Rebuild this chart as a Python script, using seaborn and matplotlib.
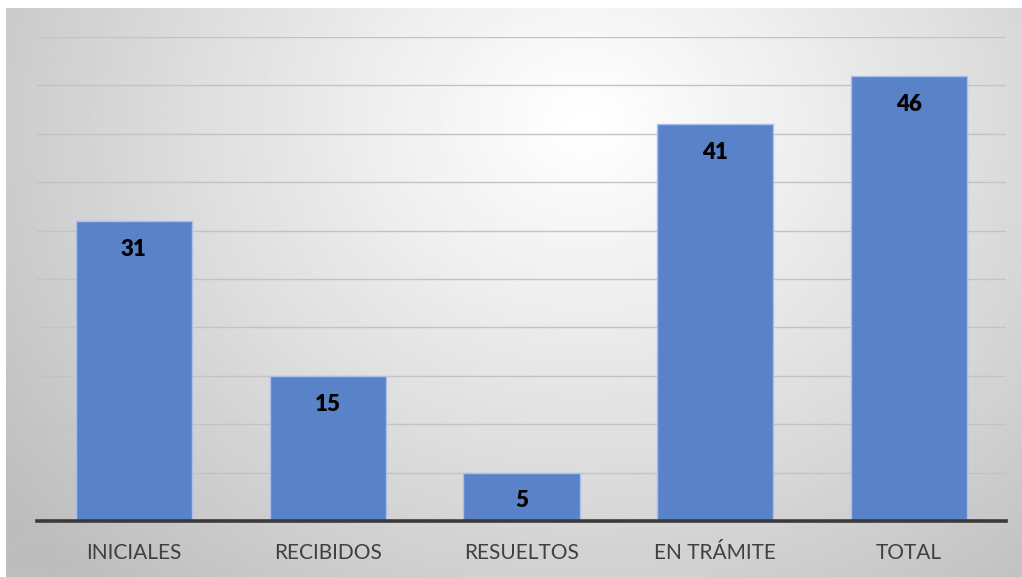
import numpy as np
import matplotlib
matplotlib.use("Agg")
import matplotlib.pyplot as plt
import seaborn as sns
import pandas as pd

categories = ["INICIALES", "RECIBIDOS", "RESUELTOS", "EN TRÁMITE", "TOTAL"]
values = [31, 15, 5, 41, 46]
y_ticks = list(range(0, 55, 5))

sns.set_theme(style="white")
plt.rcParams["font.family"] = ["Lato", "DejaVu Sans"]

W, H = 1022, 577
fig = plt.figure(figsize=(W / 100, H / 100), dpi=100)
fig.patch.set_facecolor("white")

# background radial gradient
bg = fig.add_axes([6 / W, 0, (W - 6) / W, (H - 8) / H], zorder=0)
ny, nx = 300, 540
yy, xx = np.mgrid[0:1:ny * 1j, 0:1:nx * 1j]
cx, cy = 0.57, 0.80
r = np.sqrt(((xx - cx) / 0.62) ** 2 + ((yy - cy) / 0.95) ** 2)
r = np.clip(r, 0, 1.2)
val = 1.0 - 0.22 * (r / 1.0) ** 1.1
val = np.clip(val, 0.74, 1.0)
bg.imshow(val, cmap="gray", vmin=0, vmax=1, origin="lower", aspect="auto",
          extent=[0, 1, 0, 1], interpolation="bilinear")
bg.set_axis_off()

ax = fig.add_axes([37 / W, (H - 521) / H, (1006 - 37) / W, (521 - 37) / H], zorder=1)
ax.patch.set_alpha(0)

df = pd.DataFrame({"cat": categories, "val": values})
sns.barplot(data=df, x="cat", y="val", color="#5a82c9", width=0.6,
            edgecolor="#a9c0ea", linewidth=1.0, saturation=1, ax=ax, zorder=3)

ax.set_ylim(0, 50)
ax.set_yticks(y_ticks)
ax.set_yticklabels([])
ax.tick_params(axis="y", length=0)
ax.yaxis.grid(True, color="#c3c3c3", linewidth=1.0)
ax.set_axisbelow(True)
for s in ["left", "right", "top"]:
    ax.spines[s].set_visible(False)
ax.spines["bottom"].set_color("#3a3a3a")
ax.spines["bottom"].set_linewidth(2.6)
ax.spines["bottom"].set_zorder(5)
ax.set_xlabel("")
ax.set_ylabel("")
ax.tick_params(axis="x", length=0, pad=16, labelsize=15, labelcolor="#404040")

for c in ax.containers:
    ax.bar_label(c, labels=[str(v) for v in values], padding=-28,
                 fontsize=16, fontweight="heavy", color="black")

fig.savefig("out.png", dpi=100)
